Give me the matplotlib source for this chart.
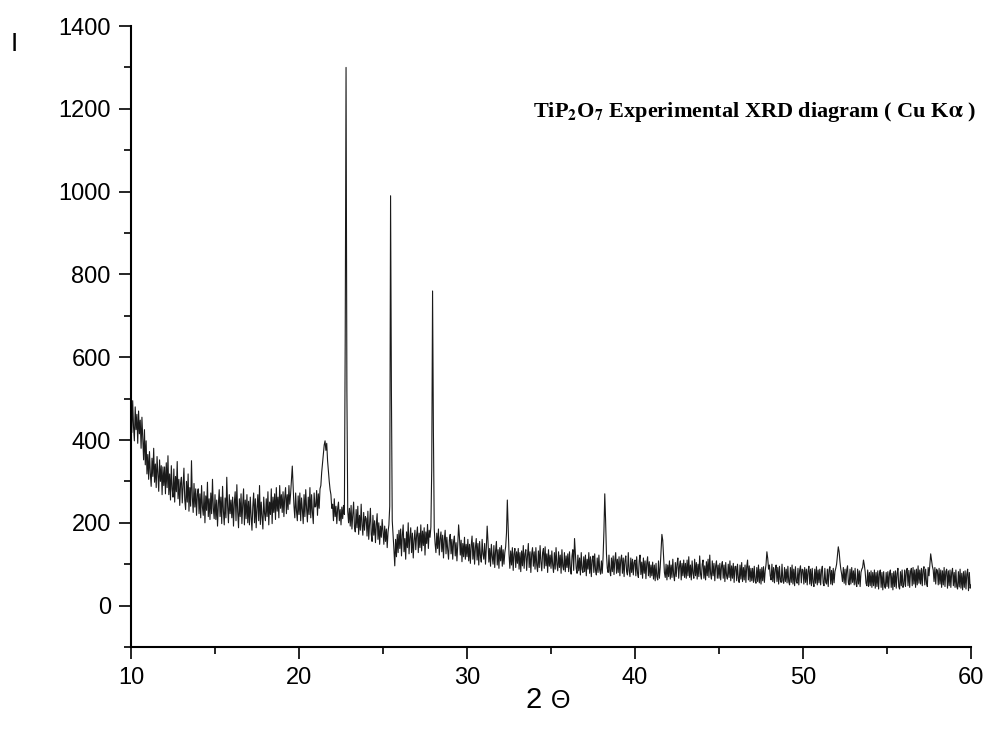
import numpy as np
import matplotlib
matplotlib.use("Agg")
import matplotlib.pyplot as plt
from matplotlib.ticker import MultipleLocator

plt.rcParams["font.family"] = ["Liberation Sans", "DejaVu Sans"]
plt.rcParams["mathtext.fontset"] = "stix"

# TiP2O7 XRD scan: one row per degree, 0.05 deg steps
ROWS = {
    10: [472, 418, 495, 431, 398, 480, 425, 462, 392, 470, 415, 448, 380, 455, 402, 352, 425, 340, 398, 318],
    11: [365, 305, 372, 320, 288, 356, 312, 380, 298, 342, 285, 360, 318, 276, 352, 300, 338, 268, 335, 290],
    12: [335, 270, 345, 285, 362, 268, 318, 255, 338, 282, 262, 330, 250, 312, 275, 348, 258, 305, 242, 296],
    13: [310, 248, 292, 332, 255, 232, 300, 250, 318, 228, 285, 240, 350, 262, 225, 295, 238, 282, 218, 270],
    14: [282, 222, 270, 212, 290, 238, 218, 275, 200, 265, 230, 298, 215, 258, 208, 272, 222, 305, 235, 210],
    15: [268, 208, 255, 192, 245, 280, 215, 262, 198, 288, 228, 195, 260, 212, 310, 240, 200, 268, 222, 255],
    16: [212, 262, 192, 248, 275, 205, 292, 226, 188, 258, 215, 270, 198, 245, 282, 195, 255, 210, 268, 200],
    17: [252, 195, 262, 215, 182, 240, 272, 200, 258, 188, 235, 268, 205, 290, 196, 250, 215, 185, 262, 222],
    18: [205, 258, 215, 275, 195, 250, 220, 282, 198, 262, 225, 270, 208, 285, 228, 262, 212, 290, 235, 268],
    19: [225, 275, 215, 262, 285, 222, 268, 232, 290, 245, 270, 305, 337, 290, 240, 212, 272, 228, 205, 265],
    20: [220, 272, 205, 260, 232, 198, 268, 215, 280, 235, 202, 262, 220, 285, 212, 268, 225, 198, 272, 238],
    21: [240, 278, 218, 270, 235, 282, 290, 322, 345, 370, 388, 398, 375, 392, 350, 325, 300, 280, 268, 235],
    22: [245, 205, 258, 215, 240, 198, 235, 250, 205, 232, 195, 238, 210, 242, 220, 640, 1300, 520, 228, 200],
    23: [235, 192, 242, 185, 220, 250, 190, 178, 232, 188, 240, 172, 218, 182, 245, 195, 170, 225, 182, 215],
    24: [210, 168, 228, 160, 200, 235, 172, 155, 218, 170, 205, 152, 195, 222, 160, 200, 148, 192, 165, 208],
    25: [180, 148, 192, 155, 185, 140, 178, 195, 240, 990, 520, 205, 172, 135, 96, 160, 118, 172, 128, 182],
    26: [138, 185, 120, 170, 195, 130, 162, 112, 178, 140, 200, 125, 165, 188, 128, 175, 115, 158, 182, 135],
    27: [170, 190, 128, 175, 140, 195, 132, 180, 145, 188, 122, 178, 150, 196, 138, 182, 165, 190, 330, 760],
    28: [420, 185, 150, 128, 175, 138, 185, 122, 162, 178, 130, 170, 115, 160, 182, 125, 165, 135, 112, 158],
    29: [172, 125, 160, 112, 155, 168, 120, 152, 108, 148, 195, 165, 122, 158, 106, 150, 118, 165, 112, 148],
    30: [118, 160, 108, 148, 102, 145, 168, 112, 152, 100, 140, 162, 110, 150, 98, 155, 120, 105, 160, 125],
    31: [112, 150, 100, 140, 192, 155, 105, 138, 95, 148, 118, 100, 145, 92, 132, 155, 98, 135, 90, 140],
    32: [108, 145, 95, 135, 100, 128, 142, 175, 255, 190, 125, 90, 132, 98, 140, 85, 125, 138, 92, 130],
    33: [102, 138, 88, 128, 82, 132, 96, 145, 90, 125, 135, 85, 120, 150, 92, 130, 80, 125, 140, 95],
    34: [130, 88, 140, 98, 82, 132, 92, 145, 105, 84, 128, 138, 90, 142, 96, 125, 80, 135, 95, 122],
    35: [90, 132, 98, 80, 128, 88, 140, 100, 84, 130, 92, 122, 78, 135, 95, 86, 128, 82, 120, 92],
    36: [125, 82, 130, 90, 76, 120, 135, 85, 162, 125, 90, 78, 122, 84, 115, 74, 128, 88, 80, 118],
    37: [82, 122, 72, 112, 88, 128, 78, 118, 70, 110, 120, 80, 125, 85, 74, 115, 80, 122, 86, 76],
    38: [108, 78, 118, 180, 270, 205, 125, 90, 80, 122, 84, 72, 115, 82, 120, 75, 110, 128, 78, 112],
    39: [80, 118, 72, 110, 122, 78, 115, 70, 108, 120, 82, 74, 128, 85, 70, 115, 80, 112, 74, 105],
    40: [110, 72, 118, 78, 68, 108, 122, 75, 105, 66, 115, 78, 108, 65, 102, 118, 72, 106, 68, 98],
    41: [72, 105, 64, 98, 60, 102, 70, 62, 108, 66, 92, 130, 172, 158, 118, 80, 68, 100, 62, 98],
    42: [70, 108, 64, 98, 68, 112, 74, 60, 104, 70, 100, 115, 66, 96, 108, 62, 102, 72, 110, 68],
    43: [102, 66, 110, 72, 118, 68, 98, 62, 108, 78, 66, 112, 72, 104, 64, 100, 70, 120, 76, 64],
    44: [100, 110, 66, 96, 62, 106, 72, 112, 68, 122, 76, 64, 108, 72, 102, 60, 96, 108, 66, 98],
    45: [66, 102, 62, 96, 106, 66, 98, 58, 104, 72, 64, 100, 68, 108, 60, 96, 66, 102, 56, 94],
    46: [95, 60, 100, 66, 56, 98, 64, 104, 58, 92, 62, 98, 56, 94, 110, 62, 96, 58, 90, 60],
    47: [90, 56, 95, 60, 54, 92, 58, 98, 55, 88, 52, 92, 60, 94, 56, 84, 100, 130, 114, 88],
    48: [98, 72, 62, 100, 58, 92, 55, 88, 98, 58, 92, 52, 95, 62, 56, 100, 60, 54, 92, 58],
    49: [88, 55, 95, 58, 50, 92, 56, 98, 52, 88, 48, 94, 58, 54, 90, 50, 86, 96, 55, 88],
    50: [86, 52, 92, 56, 88, 50, 84, 95, 52, 88, 48, 90, 56, 46, 88, 54, 94, 50, 86, 55],
    51: [88, 50, 84, 95, 54, 48, 90, 56, 52, 88, 46, 86, 94, 52, 85, 50, 90, 55, 82, 90],
    52: [100, 122, 142, 130, 106, 88, 76, 58, 92, 54, 88, 50, 86, 96, 55, 50, 88, 52, 92, 56],
    53: [84, 50, 90, 54, 46, 88, 52, 84, 46, 80, 88, 92, 110, 98, 82, 54, 48, 86, 46, 80],
    54: [48, 84, 44, 80, 48, 86, 42, 80, 46, 84, 40, 78, 86, 44, 80, 38, 82, 48, 42, 80],
    55: [46, 82, 42, 78, 86, 44, 78, 38, 82, 46, 84, 42, 78, 90, 46, 40, 82, 48, 86, 44],
    56: [50, 86, 46, 84, 90, 48, 85, 44, 82, 90, 48, 92, 52, 86, 44, 88, 50, 96, 54, 86],
    57: [52, 90, 48, 86, 94, 50, 88, 55, 46, 92, 72, 98, 125, 110, 95, 86, 58, 92, 52, 88],
    58: [84, 50, 90, 52, 86, 44, 84, 50, 92, 46, 82, 88, 42, 84, 48, 86, 44, 80, 90, 48],
    59: [80, 44, 86, 46, 40, 82, 45, 88, 42, 78, 38, 82, 44, 84, 40, 76, 88, 36, 80, 42],
}
LAST = (60.0, 50)
STEP = 0.05

two_theta = []
intensity = []
for deg, vals in ROWS.items():
    two_theta += [deg + i * STEP for i in range(len(vals))]
    intensity += vals
two_theta.append(LAST[0]); intensity.append(LAST[1])
two_theta = np.array(two_theta); intensity = np.array(intensity, dtype=float)

fig = plt.figure(figsize=(9.88, 7.29), dpi=100)
ax = fig.add_axes([0.1326, 0.1125, 0.8502, 0.8518])
ax.plot(two_theta, intensity, color="#1a1a1a", lw=0.8)

ax.set_xlim(10, 60)
ax.set_ylim(-100, 1400)
ax.xaxis.set_major_locator(MultipleLocator(10))
ax.xaxis.set_minor_locator(MultipleLocator(5))
ax.set_yticks(range(0, 1401, 200))
ax.yaxis.set_minor_locator(MultipleLocator(100))
for s in ("top", "right"):
    ax.spines[s].set_visible(False)
for s in ("left", "bottom"):
    ax.spines[s].set_linewidth(1.5)
ax.tick_params(which="major", direction="out", length=8.5, width=1.2, labelsize=17, pad=6)
ax.tick_params(which="minor", direction="out", length=5, width=1.2)

ax.text(33.93, 1193, r"TiP$_\mathbf{2}$O$_\mathbf{7}$ Experimental XRD diagram ( Cu K$\mathbf{\alpha}$ )",
        family=["Liberation Serif", "DejaVu Serif"], fontweight="bold", fontsize=16,
        ha="left", va="center", clip_on=False)

fig.text(14 / 988, 1 - 44 / 729, "I", fontsize=19, ha="center", va="center")
fig.text(542 / 988, 1 - 700 / 729, "2", fontsize=21, ha="right", va="center")
fig.text(551 / 988, 1 - 701 / 729, "\u0398", fontsize=18, ha="left", va="center")

fig.savefig("out.png", dpi=100)
